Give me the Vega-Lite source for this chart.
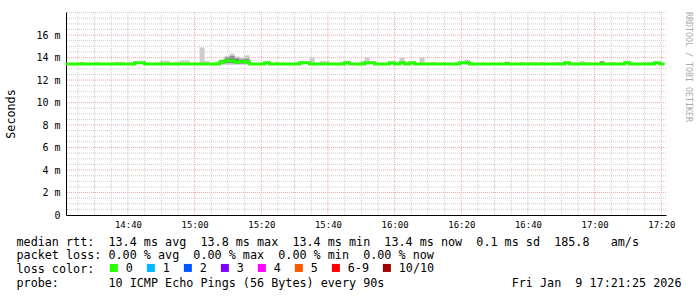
{
  "$schema": "https://vega.github.io/schema/vega-lite/v6.json",
  "width": 600,
  "height": 203,
  "autosize": {"type": "none"},
  "padding": {"left": 66, "top": 12, "right": 31, "bottom": 82},
  "background": "white",
  "title": {"text": "RRDTOOL / TOBI OETIKER", "orient": "right", "anchor": "start", "frame": "group", "fontSize": 8.3, "fontWeight": "normal", "color": "#aaaaaa", "offset": 4},
  "config": {
    "font": "DejaVu Sans Mono",
    "view": {"stroke": null},
    "axis": {"labelColor": "black", "titleColor": "black", "domainColor": "black", "ticks": false, "grid": false, "titleFontWeight": "normal"}
  },
  "datasets": {
    "ymin": [{"v": 0.5}, {"v": 1}, {"v": 1.5}, {"v": 2.5}, {"v": 3}, {"v": 3.5}, {"v": 4.5}, {"v": 5}, {"v": 5.5}, {"v": 6.5}, {"v": 7}, {"v": 7.5}, {"v": 8.5}, {"v": 9}, {"v": 9.5}, {"v": 10.5}, {"v": 11}, {"v": 11.5}, {"v": 12.5}, {"v": 13}, {"v": 13.5}, {"v": 14.5}, {"v": 15}, {"v": 15.5}, {"v": 16.5}, {"v": 17}, {"v": 17.5}, {"v": 18}],
    "xmin": [{"t": "2026-01-09T14:25:00"}, {"t": "2026-01-09T14:30:00"}, {"t": "2026-01-09T14:35:00"}, {"t": "2026-01-09T14:45:00"}, {"t": "2026-01-09T14:50:00"}, {"t": "2026-01-09T14:55:00"}, {"t": "2026-01-09T15:05:00"}, {"t": "2026-01-09T15:10:00"}, {"t": "2026-01-09T15:15:00"}, {"t": "2026-01-09T15:25:00"}, {"t": "2026-01-09T15:30:00"}, {"t": "2026-01-09T15:35:00"}, {"t": "2026-01-09T15:45:00"}, {"t": "2026-01-09T15:50:00"}, {"t": "2026-01-09T15:55:00"}, {"t": "2026-01-09T16:05:00"}, {"t": "2026-01-09T16:10:00"}, {"t": "2026-01-09T16:15:00"}, {"t": "2026-01-09T16:25:00"}, {"t": "2026-01-09T16:30:00"}, {"t": "2026-01-09T16:35:00"}, {"t": "2026-01-09T16:45:00"}, {"t": "2026-01-09T16:50:00"}, {"t": "2026-01-09T16:55:00"}, {"t": "2026-01-09T17:05:00"}, {"t": "2026-01-09T17:10:00"}, {"t": "2026-01-09T17:15:00"}],
    "hgrid": [{"v": 2}, {"v": 4}, {"v": 6}, {"v": 8}, {"v": 10}, {"v": 12}, {"v": 14}, {"v": 16}],
    "vgrid": [{"t": "2026-01-09T14:40:00"}, {"t": "2026-01-09T15:00:00"}, {"t": "2026-01-09T15:20:00"}, {"t": "2026-01-09T15:40:00"}, {"t": "2026-01-09T16:00:00"}, {"t": "2026-01-09T16:20:00"}, {"t": "2026-01-09T16:40:00"}, {"t": "2026-01-09T17:00:00"}, {"t": "2026-01-09T17:20:00"}],
    "smoke": [
      {"t": "2026-01-09T14:25:30", "t2": "2026-01-09T14:27:00", "lo": 13.35, "hi": 13.62, "shade": "light"},
      {"t": "2026-01-09T14:30:00", "t2": "2026-01-09T14:31:30", "lo": 13.35, "hi": 13.62, "shade": "light"},
      {"t": "2026-01-09T14:36:00", "t2": "2026-01-09T14:37:30", "lo": 13.35, "hi": 13.62, "shade": "light"},
      {"t": "2026-01-09T14:37:30", "t2": "2026-01-09T14:39:00", "lo": 13.35, "hi": 13.62, "shade": "light"},
      {"t": "2026-01-09T14:49:30", "t2": "2026-01-09T14:51:00", "lo": 13.35, "hi": 13.72, "shade": "light"},
      {"t": "2026-01-09T14:51:00", "t2": "2026-01-09T14:52:30", "lo": 13.35, "hi": 13.72, "shade": "light"},
      {"t": "2026-01-09T14:54:00", "t2": "2026-01-09T14:55:30", "lo": 13.35, "hi": 13.62, "shade": "light"},
      {"t": "2026-01-09T14:55:30", "t2": "2026-01-09T14:57:00", "lo": 13.35, "hi": 13.75, "shade": "light"},
      {"t": "2026-01-09T14:57:00", "t2": "2026-01-09T14:58:30", "lo": 13.35, "hi": 13.75, "shade": "light"},
      {"t": "2026-01-09T15:01:30", "t2": "2026-01-09T15:03:00", "lo": 13.35, "hi": 14.9, "shade": "light"},
      {"t": "2026-01-09T15:03:00", "t2": "2026-01-09T15:04:30", "lo": 13.35, "hi": 13.7, "shade": "light"},
      {"t": "2026-01-09T15:06:00", "t2": "2026-01-09T15:07:30", "lo": 13.35, "hi": 13.62, "shade": "light"},
      {"t": "2026-01-09T15:07:30", "t2": "2026-01-09T15:09:00", "lo": 13.35, "hi": 13.85, "shade": "light"},
      {"t": "2026-01-09T15:09:00", "t2": "2026-01-09T15:10:30", "lo": 13.35, "hi": 14.15, "shade": "light"},
      {"t": "2026-01-09T15:10:30", "t2": "2026-01-09T15:12:00", "lo": 13.35, "hi": 14.35, "shade": "light"},
      {"t": "2026-01-09T15:12:00", "t2": "2026-01-09T15:13:30", "lo": 13.35, "hi": 14.1, "shade": "light"},
      {"t": "2026-01-09T15:13:30", "t2": "2026-01-09T15:15:00", "lo": 13.35, "hi": 14.0, "shade": "light"},
      {"t": "2026-01-09T15:15:00", "t2": "2026-01-09T15:16:30", "lo": 13.35, "hi": 14.2, "shade": "light"},
      {"t": "2026-01-09T15:24:00", "t2": "2026-01-09T15:25:30", "lo": 13.35, "hi": 13.62, "shade": "light"},
      {"t": "2026-01-09T15:30:00", "t2": "2026-01-09T15:31:30", "lo": 13.35, "hi": 13.62, "shade": "light"},
      {"t": "2026-01-09T15:31:30", "t2": "2026-01-09T15:33:00", "lo": 13.35, "hi": 13.72, "shade": "light"},
      {"t": "2026-01-09T15:34:30", "t2": "2026-01-09T15:36:00", "lo": 13.35, "hi": 14.0, "shade": "light"},
      {"t": "2026-01-09T15:37:30", "t2": "2026-01-09T15:39:00", "lo": 13.35, "hi": 13.68, "shade": "light"},
      {"t": "2026-01-09T15:39:00", "t2": "2026-01-09T15:40:30", "lo": 13.35, "hi": 13.68, "shade": "light"},
      {"t": "2026-01-09T15:43:30", "t2": "2026-01-09T15:45:00", "lo": 13.35, "hi": 13.62, "shade": "light"},
      {"t": "2026-01-09T15:49:30", "t2": "2026-01-09T15:51:00", "lo": 13.35, "hi": 13.68, "shade": "light"},
      {"t": "2026-01-09T15:51:00", "t2": "2026-01-09T15:52:30", "lo": 13.35, "hi": 14.0, "shade": "light"},
      {"t": "2026-01-09T16:01:30", "t2": "2026-01-09T16:03:00", "lo": 13.35, "hi": 14.0, "shade": "light"},
      {"t": "2026-01-09T16:07:30", "t2": "2026-01-09T16:09:00", "lo": 13.35, "hi": 14.0, "shade": "light"},
      {"t": "2026-01-09T16:10:30", "t2": "2026-01-09T16:12:00", "lo": 13.35, "hi": 13.6, "shade": "light"},
      {"t": "2026-01-09T16:18:00", "t2": "2026-01-09T16:19:30", "lo": 13.35, "hi": 13.62, "shade": "light"},
      {"t": "2026-01-09T16:21:00", "t2": "2026-01-09T16:22:30", "lo": 13.35, "hi": 13.8, "shade": "light"},
      {"t": "2026-01-09T16:37:30", "t2": "2026-01-09T16:39:00", "lo": 13.35, "hi": 13.6, "shade": "light"},
      {"t": "2026-01-09T16:40:30", "t2": "2026-01-09T16:42:00", "lo": 13.35, "hi": 13.6, "shade": "light"},
      {"t": "2026-01-09T16:43:30", "t2": "2026-01-09T16:45:00", "lo": 13.35, "hi": 13.6, "shade": "light"},
      {"t": "2026-01-09T16:48:00", "t2": "2026-01-09T16:49:30", "lo": 13.35, "hi": 13.6, "shade": "light"},
      {"t": "2026-01-09T16:49:30", "t2": "2026-01-09T16:51:00", "lo": 13.35, "hi": 13.6, "shade": "light"},
      {"t": "2026-01-09T16:54:00", "t2": "2026-01-09T16:55:30", "lo": 13.35, "hi": 13.6, "shade": "light"},
      {"t": "2026-01-09T16:55:30", "t2": "2026-01-09T16:57:00", "lo": 13.35, "hi": 13.68, "shade": "light"},
      {"t": "2026-01-09T16:57:00", "t2": "2026-01-09T16:58:30", "lo": 13.35, "hi": 13.6, "shade": "light"},
      {"t": "2026-01-09T17:04:30", "t2": "2026-01-09T17:06:00", "lo": 13.35, "hi": 13.6, "shade": "light"},
      {"t": "2026-01-09T17:15:00", "t2": "2026-01-09T17:16:30", "lo": 13.35, "hi": 13.6, "shade": "light"},
      {"t": "2026-01-09T17:16:30", "t2": "2026-01-09T17:18:00", "lo": 13.35, "hi": 13.6, "shade": "light"},
      {"t": "2026-01-09T15:07:30", "t2": "2026-01-09T15:09:00", "lo": 13.45, "hi": 13.75, "shade": "mid"},
      {"t": "2026-01-09T15:09:00", "t2": "2026-01-09T15:10:30", "lo": 13.5, "hi": 14.0, "shade": "mid"},
      {"t": "2026-01-09T15:10:30", "t2": "2026-01-09T15:12:00", "lo": 13.5, "hi": 14.15, "shade": "mid"},
      {"t": "2026-01-09T15:12:00", "t2": "2026-01-09T15:13:30", "lo": 13.45, "hi": 13.95, "shade": "mid"},
      {"t": "2026-01-09T15:13:30", "t2": "2026-01-09T15:15:00", "lo": 13.45, "hi": 13.85, "shade": "mid"},
      {"t": "2026-01-09T15:15:00", "t2": "2026-01-09T15:16:30", "lo": 13.45, "hi": 13.9, "shade": "mid"},
      {"t": "2026-01-09T16:33:00", "t2": "2026-01-09T16:34:30", "lo": 13.45, "hi": 13.62, "shade": "mid"},
      {"t": "2026-01-09T17:01:30", "t2": "2026-01-09T17:03:00", "lo": 13.45, "hi": 13.68, "shade": "mid"},
      {"t": "2026-01-09T15:09:00", "t2": "2026-01-09T15:10:30", "lo": 13.6, "hi": 13.8, "shade": "dark"},
      {"t": "2026-01-09T15:10:30", "t2": "2026-01-09T15:12:00", "lo": 13.6, "hi": 13.85, "shade": "dark"},
      {"t": "2026-01-09T15:12:00", "t2": "2026-01-09T15:13:30", "lo": 13.55, "hi": 13.75, "shade": "dark"},
      {"t": "2026-01-09T15:13:30", "t2": "2026-01-09T15:15:00", "lo": 13.55, "hi": 13.75, "shade": "dark"}
    ],
    "median": [
      {"t": "2026-01-09T14:21:00", "m": 13.43, "loss": "0"},
      {"t": "2026-01-09T14:22:30", "m": 13.43, "loss": "0"},
      {"t": "2026-01-09T14:24:00", "m": 13.43, "loss": "0"},
      {"t": "2026-01-09T14:25:30", "m": 13.43, "loss": "0"},
      {"t": "2026-01-09T14:27:00", "m": 13.43, "loss": "0"},
      {"t": "2026-01-09T14:28:30", "m": 13.43, "loss": "0"},
      {"t": "2026-01-09T14:30:00", "m": 13.43, "loss": "0"},
      {"t": "2026-01-09T14:31:30", "m": 13.43, "loss": "0"},
      {"t": "2026-01-09T14:33:00", "m": 13.43, "loss": "0"},
      {"t": "2026-01-09T14:34:30", "m": 13.43, "loss": "0"},
      {"t": "2026-01-09T14:36:00", "m": 13.43, "loss": "0"},
      {"t": "2026-01-09T14:37:30", "m": 13.43, "loss": "0"},
      {"t": "2026-01-09T14:39:00", "m": 13.43, "loss": "0"},
      {"t": "2026-01-09T14:40:30", "m": 13.43, "loss": "0"},
      {"t": "2026-01-09T14:42:00", "m": 13.53, "loss": "0"},
      {"t": "2026-01-09T14:43:30", "m": 13.53, "loss": "0"},
      {"t": "2026-01-09T14:45:00", "m": 13.43, "loss": "0"},
      {"t": "2026-01-09T14:46:30", "m": 13.43, "loss": "0"},
      {"t": "2026-01-09T14:48:00", "m": 13.43, "loss": "0"},
      {"t": "2026-01-09T14:49:30", "m": 13.43, "loss": "0"},
      {"t": "2026-01-09T14:51:00", "m": 13.43, "loss": "0"},
      {"t": "2026-01-09T14:52:30", "m": 13.43, "loss": "0"},
      {"t": "2026-01-09T14:54:00", "m": 13.43, "loss": "0"},
      {"t": "2026-01-09T14:55:30", "m": 13.43, "loss": "0"},
      {"t": "2026-01-09T14:57:00", "m": 13.43, "loss": "0"},
      {"t": "2026-01-09T14:58:30", "m": 13.43, "loss": "0"},
      {"t": "2026-01-09T15:00:00", "m": 13.43, "loss": "0"},
      {"t": "2026-01-09T15:01:30", "m": 13.43, "loss": "0"},
      {"t": "2026-01-09T15:03:00", "m": 13.43, "loss": "0"},
      {"t": "2026-01-09T15:04:30", "m": 13.43, "loss": "0"},
      {"t": "2026-01-09T15:06:00", "m": 13.43, "loss": "0"},
      {"t": "2026-01-09T15:07:30", "m": 13.6, "loss": "0"},
      {"t": "2026-01-09T15:09:00", "m": 13.72, "loss": "0"},
      {"t": "2026-01-09T15:10:30", "m": 13.72, "loss": "0"},
      {"t": "2026-01-09T15:12:00", "m": 13.58, "loss": "0"},
      {"t": "2026-01-09T15:13:30", "m": 13.65, "loss": "0"},
      {"t": "2026-01-09T15:15:00", "m": 13.62, "loss": "0"},
      {"t": "2026-01-09T15:16:30", "m": 13.43, "loss": "0"},
      {"t": "2026-01-09T15:18:00", "m": 13.43, "loss": "0"},
      {"t": "2026-01-09T15:19:30", "m": 13.43, "loss": "0"},
      {"t": "2026-01-09T15:21:00", "m": 13.53, "loss": "0"},
      {"t": "2026-01-09T15:22:30", "m": 13.43, "loss": "0"},
      {"t": "2026-01-09T15:24:00", "m": 13.43, "loss": "0"},
      {"t": "2026-01-09T15:25:30", "m": 13.43, "loss": "0"},
      {"t": "2026-01-09T15:27:00", "m": 13.43, "loss": "0"},
      {"t": "2026-01-09T15:28:30", "m": 13.43, "loss": "0"},
      {"t": "2026-01-09T15:30:00", "m": 13.43, "loss": "0"},
      {"t": "2026-01-09T15:31:30", "m": 13.53, "loss": "0"},
      {"t": "2026-01-09T15:33:00", "m": 13.53, "loss": "0"},
      {"t": "2026-01-09T15:34:30", "m": 13.43, "loss": "0"},
      {"t": "2026-01-09T15:36:00", "m": 13.43, "loss": "0"},
      {"t": "2026-01-09T15:37:30", "m": 13.43, "loss": "0"},
      {"t": "2026-01-09T15:39:00", "m": 13.43, "loss": "0"},
      {"t": "2026-01-09T15:40:30", "m": 13.43, "loss": "0"},
      {"t": "2026-01-09T15:42:00", "m": 13.43, "loss": "0"},
      {"t": "2026-01-09T15:43:30", "m": 13.43, "loss": "0"},
      {"t": "2026-01-09T15:45:00", "m": 13.53, "loss": "0"},
      {"t": "2026-01-09T15:46:30", "m": 13.43, "loss": "0"},
      {"t": "2026-01-09T15:48:00", "m": 13.43, "loss": "0"},
      {"t": "2026-01-09T15:49:30", "m": 13.43, "loss": "0"},
      {"t": "2026-01-09T15:51:00", "m": 13.53, "loss": "0"},
      {"t": "2026-01-09T15:52:30", "m": 13.53, "loss": "0"},
      {"t": "2026-01-09T15:54:00", "m": 13.43, "loss": "0"},
      {"t": "2026-01-09T15:55:30", "m": 13.43, "loss": "0"},
      {"t": "2026-01-09T15:57:00", "m": 13.43, "loss": "0"},
      {"t": "2026-01-09T15:58:30", "m": 13.53, "loss": "0"},
      {"t": "2026-01-09T16:00:00", "m": 13.43, "loss": "0"},
      {"t": "2026-01-09T16:01:30", "m": 13.53, "loss": "0"},
      {"t": "2026-01-09T16:03:00", "m": 13.43, "loss": "0"},
      {"t": "2026-01-09T16:04:30", "m": 13.53, "loss": "0"},
      {"t": "2026-01-09T16:06:00", "m": 13.43, "loss": "0"},
      {"t": "2026-01-09T16:07:30", "m": 13.43, "loss": "0"},
      {"t": "2026-01-09T16:09:00", "m": 13.43, "loss": "0"},
      {"t": "2026-01-09T16:10:30", "m": 13.43, "loss": "0"},
      {"t": "2026-01-09T16:12:00", "m": 13.43, "loss": "0"},
      {"t": "2026-01-09T16:13:30", "m": 13.43, "loss": "0"},
      {"t": "2026-01-09T16:15:00", "m": 13.43, "loss": "0"},
      {"t": "2026-01-09T16:16:30", "m": 13.43, "loss": "0"},
      {"t": "2026-01-09T16:18:00", "m": 13.43, "loss": "0"},
      {"t": "2026-01-09T16:19:30", "m": 13.53, "loss": "0"},
      {"t": "2026-01-09T16:21:00", "m": 13.53, "loss": "0"},
      {"t": "2026-01-09T16:22:30", "m": 13.43, "loss": "0"},
      {"t": "2026-01-09T16:24:00", "m": 13.43, "loss": "0"},
      {"t": "2026-01-09T16:25:30", "m": 13.43, "loss": "0"},
      {"t": "2026-01-09T16:27:00", "m": 13.43, "loss": "0"},
      {"t": "2026-01-09T16:28:30", "m": 13.43, "loss": "0"},
      {"t": "2026-01-09T16:30:00", "m": 13.43, "loss": "0"},
      {"t": "2026-01-09T16:31:30", "m": 13.43, "loss": "0"},
      {"t": "2026-01-09T16:33:00", "m": 13.43, "loss": "0"},
      {"t": "2026-01-09T16:34:30", "m": 13.43, "loss": "0"},
      {"t": "2026-01-09T16:36:00", "m": 13.43, "loss": "0"},
      {"t": "2026-01-09T16:37:30", "m": 13.43, "loss": "0"},
      {"t": "2026-01-09T16:39:00", "m": 13.43, "loss": "0"},
      {"t": "2026-01-09T16:40:30", "m": 13.43, "loss": "0"},
      {"t": "2026-01-09T16:42:00", "m": 13.43, "loss": "0"},
      {"t": "2026-01-09T16:43:30", "m": 13.43, "loss": "0"},
      {"t": "2026-01-09T16:45:00", "m": 13.43, "loss": "0"},
      {"t": "2026-01-09T16:46:30", "m": 13.43, "loss": "0"},
      {"t": "2026-01-09T16:48:00", "m": 13.43, "loss": "0"},
      {"t": "2026-01-09T16:49:30", "m": 13.43, "loss": "0"},
      {"t": "2026-01-09T16:51:00", "m": 13.53, "loss": "0"},
      {"t": "2026-01-09T16:52:30", "m": 13.43, "loss": "0"},
      {"t": "2026-01-09T16:54:00", "m": 13.43, "loss": "0"},
      {"t": "2026-01-09T16:55:30", "m": 13.43, "loss": "0"},
      {"t": "2026-01-09T16:57:00", "m": 13.43, "loss": "0"},
      {"t": "2026-01-09T16:58:30", "m": 13.43, "loss": "0"},
      {"t": "2026-01-09T17:00:00", "m": 13.43, "loss": "0"},
      {"t": "2026-01-09T17:01:30", "m": 13.43, "loss": "0"},
      {"t": "2026-01-09T17:03:00", "m": 13.43, "loss": "0"},
      {"t": "2026-01-09T17:04:30", "m": 13.43, "loss": "0"},
      {"t": "2026-01-09T17:06:00", "m": 13.43, "loss": "0"},
      {"t": "2026-01-09T17:07:30", "m": 13.43, "loss": "0"},
      {"t": "2026-01-09T17:09:00", "m": 13.53, "loss": "0"},
      {"t": "2026-01-09T17:10:30", "m": 13.43, "loss": "0"},
      {"t": "2026-01-09T17:12:00", "m": 13.43, "loss": "0"},
      {"t": "2026-01-09T17:13:30", "m": 13.43, "loss": "0"},
      {"t": "2026-01-09T17:15:00", "m": 13.43, "loss": "0"},
      {"t": "2026-01-09T17:16:30", "m": 13.43, "loss": "0"},
      {"t": "2026-01-09T17:18:00", "m": 13.53, "loss": "0"},
      {"t": "2026-01-09T17:19:30", "m": 13.43, "loss": "0"},
      {"t": "2026-01-09T17:21:00", "m": 13.43, "loss": "0"}
    ]
  },
  "layer": [
    {
      "data": {"name": "smoke"},
      "mark": {"type": "rect", "clip": true, "opacity": 0},
      "encoding": {
        "x": {
          "field": "t", "type": "temporal",
          "scale": {"domain": [{"year": 2026, "month": 1, "date": 9, "hours": 14, "minutes": 21, "seconds": 25}, {"year": 2026, "month": 1, "date": 9, "hours": 17, "minutes": 21, "seconds": 25}], "nice": false},
          "axis": {
            "title": ["median\u00a0rtt:\u00a0\u00a013.4\u00a0ms\u00a0avg\u00a0\u00a013.8\u00a0ms\u00a0max\u00a0\u00a013.4\u00a0ms\u00a0min\u00a0\u00a013.4\u00a0ms\u00a0now\u00a0\u00a00.1\u00a0ms\u00a0sd\u00a0\u00a0185.8\u00a0\u00a0\u00a0am/s", "packet\u00a0loss:\u00a00.00\u00a0%\u00a0avg\u00a0\u00a00.00\u00a0%\u00a0max\u00a0\u00a00.00\u00a0%\u00a0min\u00a0\u00a00.00\u00a0%\u00a0now", "loss\u00a0color:", "probe:\u00a0\u00a0\u00a0\u00a0\u00a0\u00a0\u00a010\u00a0ICMP\u00a0Echo\u00a0Pings\u00a0(56\u00a0Bytes)\u00a0every\u00a090s\u00a0\u00a0\u00a0\u00a0\u00a0\u00a0\u00a0\u00a0\u00a0\u00a0\u00a0\u00a0\u00a0\u00a0\u00a0\u00a0\u00a0\u00a0Fri\u00a0Jan\u00a0\u00a09\u00a017:21:25\u00a02026"],
            "titleAnchor": "start", "titleAlign": "left", "titleX": -50, "titleY": 21, "titleBaseline": "top",
            "titleFontSize": 11.75, "titleLineHeight": 13.67,
            "values": [
              {"year": 2026, "month": 1, "date": 9, "hours": 14, "minutes": 40}, {"year": 2026, "month": 1, "date": 9, "hours": 15, "minutes": 0}, {"year": 2026, "month": 1, "date": 9, "hours": 15, "minutes": 20},
              {"year": 2026, "month": 1, "date": 9, "hours": 15, "minutes": 40}, {"year": 2026, "month": 1, "date": 9, "hours": 16, "minutes": 0}, {"year": 2026, "month": 1, "date": 9, "hours": 16, "minutes": 20},
              {"year": 2026, "month": 1, "date": 9, "hours": 16, "minutes": 40}, {"year": 2026, "month": 1, "date": 9, "hours": 17, "minutes": 0}, {"year": 2026, "month": 1, "date": 9, "hours": 17, "minutes": 20}
            ],
            "tickCount": 20,
            "labelExpr": "minutes(datum.value) % 20 === 0 ? timeFormat(datum.value, '%H:%M') : ''",
            "labelOverlap": false, "labelFlush": false,
            "labelFontSize": 9, "labelPadding": 5
          }
        },
        "x2": {"field": "t2"},
        "y": {
          "field": "lo", "type": "quantitative",
          "scale": {"domain": [0, 18.05], "nice": false, "zero": false},
          "axis": {
            "title": "Seconds", "titleFontSize": 11.75, "titlePadding": 19,
            "values": [0, 2, 4, 6, 8, 10, 12, 14, 16],
            "tickCount": 20,
            "labelExpr": "datum.value % 2 === 0 && datum.value <= 16 ? (datum.value === 0 ? '0' : datum.value + ' m') : ''",
            "labelOverlap": false,
            "labelFontSize": 10, "labelPadding": 6
          }
        },
        "y2": {"field": "hi"}
      }
    },
    {
      "data": {"name": "ymin"},
      "mark": {"type": "rule", "color": "#cfcfcf", "strokeDash": [1, 1], "strokeWidth": 1},
      "encoding": {"y": {"field": "v", "type": "quantitative", "axis": {"values": [0, 2, 4, 6, 8, 10, 12, 14, 16], "tickCount": 20, "labelOverlap": false}}}
    },
    {
      "data": {"name": "xmin"},
      "mark": {"type": "rule", "color": "#cfcfcf", "strokeDash": [1, 1], "strokeWidth": 1},
      "encoding": {"x": {"field": "t", "type": "temporal", "axis": {"tickCount": 20, "labelOverlap": false, "labelFlush": false}}}
    },
    {
      "data": {"name": "hgrid"},
      "mark": {"type": "rule", "color": "#eeaaaa", "strokeDash": [1, 1], "strokeWidth": 1},
      "encoding": {"y": {"field": "v", "type": "quantitative", "axis": {"values": [0, 2, 4, 6, 8, 10, 12, 14, 16], "tickCount": 20, "labelOverlap": false}}}
    },
    {
      "data": {"name": "vgrid"},
      "mark": {"type": "rule", "color": "#eeaaaa", "strokeDash": [1, 1], "strokeWidth": 1},
      "encoding": {"x": {"field": "t", "type": "temporal", "axis": {"tickCount": 20, "labelOverlap": false, "labelFlush": false}}}
    },
    {
      "data": {"name": "smoke"},
      "mark": {"type": "rect", "clip": true},
      "encoding": {
        "x": {"field": "t", "type": "temporal"},
        "x2": {"field": "t2"},
        "y": {"field": "lo", "type": "quantitative"},
        "y2": {"field": "hi"},
        "fill": {"field": "shade", "type": "nominal", "scale": {"domain": ["light", "mid", "dark"], "range": ["#cccccc", "#8f8f8f", "#2e2e2e"]}, "legend": null}
      }
    },
    {
      "data": {"name": "median"},
      "mark": {"type": "line", "interpolate": "step-after", "strokeWidth": 3, "clip": true},
      "encoding": {
        "x": {"field": "t", "type": "temporal"},
        "y": {"field": "m", "type": "quantitative"},
        "stroke": {
          "field": "loss", "type": "nominal",
          "scale": {"domain": ["0", "1", "2", "3", "4", "5", "6-9", "10/10"], "range": ["#26ff00", "#00b8ff", "#0059ff", "#7e00ff", "#ff00ff", "#ff5500", "#ff0000", "#a10000"]},
          "legend": {
            "title": null, "orient": "none", "legendX": 42, "legendY": 250, "direction": "horizontal",
            "symbolType": "square", "symbolSize": 16, "symbolStrokeWidth": 4,
            "labelFontSize": 11.75, "labelColor": "black", "labelOffset": 6, "columnPadding": 7
          }
        }
      }
    }
  ]
}
